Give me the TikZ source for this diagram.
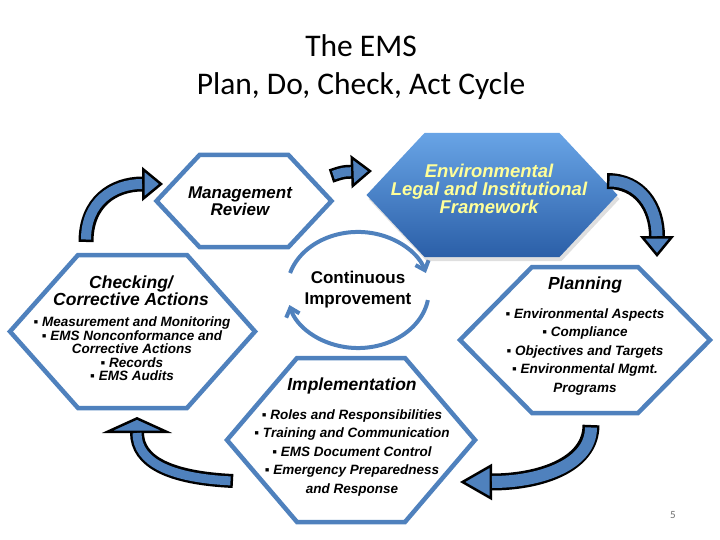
\documentclass[tikz,border=0pt]{standalone}
\usepackage{fontspec}
\setmainfont{Liberation Sans}
\newfontfamily\titlefont{Carlito}
\usepackage{xcolor}
\usepackage{tikz}
\usetikzlibrary{arrows.meta, positioning, calc, shadows}
\definecolor{emsblue}{HTML}{4F81BD}
\definecolor{envtop}{HTML}{68A4E6}
\definecolor{envbot}{HTML}{2B5FA8}
\definecolor{envtext}{HTML}{FFFF99}
\definecolor{pagegray}{HTML}{6E6E6E}

\newcommand{\hexof}[2]{(#1.west) -- ([xshift=#2]#1.north west) -- ([xshift=-#2]#1.north east) -- (#1.east) -- ([xshift=-#2]#1.south east) -- ([xshift=#2]#1.south west) -- cycle}
\newcommand{\blockarrow}[5]{%
  \draw[line width=#4, -{Triangle[length=#1, width=#2, line width=2.5pt, fill=emsblue]}] #5;
  \draw[emsblue, line width=#3, shorten >=#1, shorten <=2.5pt] #5;}

\begin{document}
\begin{tikzpicture}[x=1pt, y=-1pt,
        hexcore/.style={inner sep=0, outer sep=0},
        hexline/.style={draw=emsblue, line width=4.5pt, fill=white},
        head/.style={inner sep=0, align=center, font=\bfseries\itshape\fontsize{17.5}{17}\selectfont},
        items/.style={inner sep=0, align=center, font=\bfseries\itshape\fontsize{13.5}{18.5}\selectfont},
        cyclearc/.style={draw=emsblue, line width=4pt, -{Straight Barb[length=8pt, width=14pt]}}
      ]
        \useasboundingbox (0,0) rectangle (720,540);
        \node[font=\titlefont\fontsize{31.5}{38}\selectfont, align=center] (title) at (361,67)
          {The EMS\\Plan, Do, Check, Act Cycle};

        \node[hexcore, minimum width=175pt, minimum height=92pt]  (mgmt)  at (244,201) {};
        \node[hexcore, minimum width=245pt, minimum height=153pt] (check) at (132.5,331.5) {};
        \node[hexcore, minimum width=251pt, minimum height=124pt] (env)   at (492,195) {};
        \node[hexcore, minimum width=250pt, minimum height=146pt] (plan)  at (585,340) {};
        \node[hexcore, minimum width=248pt, minimum height=164pt] (impl)  at (351,440) {};

        \node[inner sep=0, align=center, font=\bfseries\fontsize{17}{21}\selectfont] (ci) at (358,290)
          {Continuous\\Improvement};
        \draw[cyclearc] (ci.center) ++(-67.9,-17) arc[start angle=197, end angle=343, x radius=71, y radius=58];
        \draw[cyclearc] (ci.center) ++(69.9,10.1) arc[start angle=10, end angle=165, x radius=71, y radius=58];

        \draw[hexline] \hexof{mgmt}{43pt};
        \draw[hexline] \hexof{check}{68pt};
        \draw[hexline] \hexof{plan}{72pt};
        \draw[hexline] \hexof{impl}{70pt};
        \path[top color=envtop, bottom color=envbot,
              drop shadow={opacity=0.25, shadow xshift=2pt, shadow yshift=-4pt}] \hexof{env}{58pt};

        \node[head, font=\bfseries\itshape\fontsize{17}{15.5}\selectfont] (mgmtText) at (240,201) {Management\\Review};
        \node[head] (checkTitle) at (131,291) {Checking/\\Corrective Actions};
        \node[items, font=\bfseries\itshape\fontsize{13.5}{13.5}\selectfont] (checkList) at (132,349)
          {▪ Measurement and Monitoring\\▪ EMS Nonconformance and\\Corrective Actions\\▪ Records\\▪ EMS Audits};
        \node[head, text=envtext, font=\bfseries\itshape\fontsize{18.5}{18}\selectfont] (envText) at (489,189)
          {Environmental\\Legal and Institutional\\Framework};
        \node[head] (planTitle) at (585,285) {Planning};
        \node[items] (planList) at (585,352)
          {▪ Environmental Aspects\\▪ Compliance\\▪ Objectives and Targets\\▪ Environmental Mgmt.\\Programs};
        \node[head] (implTitle) at (352,386) {Implementation};
        \node[items] (implList) at (352,453)
          {▪ Roles and Responsibilities\\▪ Training and Communication\\▪ EMS Document Control\\▪ Emergency Preparedness\\and Response};

        \coordinate (a1s) at (86,242);  \coordinate (a1e) at (163,184);
        \coordinate (a2s) at (331,176); \coordinate (a2e) at (372,171);
        \coordinate (a3s) at (607,181); \coordinate (a3e) at (657,257);
        \coordinate (a4s) at (591,425); \coordinate (a4e) at (460,482);
        \coordinate (a5s) at (233,481); \coordinate (a5e) at (137,417);
        \blockarrow{21pt}{34pt}{10pt}{15pt}{(a1s) .. controls +(0,-40) and +(-50,0) .. (a1e)}
        \blockarrow{21pt}{33pt}{9pt}{14pt}{(a2s) .. controls +(12,-4) .. (a2e)}
        \blockarrow{21pt}{34pt}{11pt}{16pt}{(a3s) .. controls +(33,0) and +(0,-50) .. (a3e)}
        \blockarrow{32pt}{36pt}{12pt}{17pt}{(a4s) .. controls +(0,40) and +(80,0) .. (a4e)}
        \blockarrow{16pt}{70pt}{9pt}{14pt}{(a5s) .. controls +(-63,-3) and +(0,45) .. (a5e)}

        \node[font=\titlefont\fontsize{11}{13}\selectfont, text=pagegray] (pagenum) at (673,515) {5};
      \end{tikzpicture}
\end{document}
